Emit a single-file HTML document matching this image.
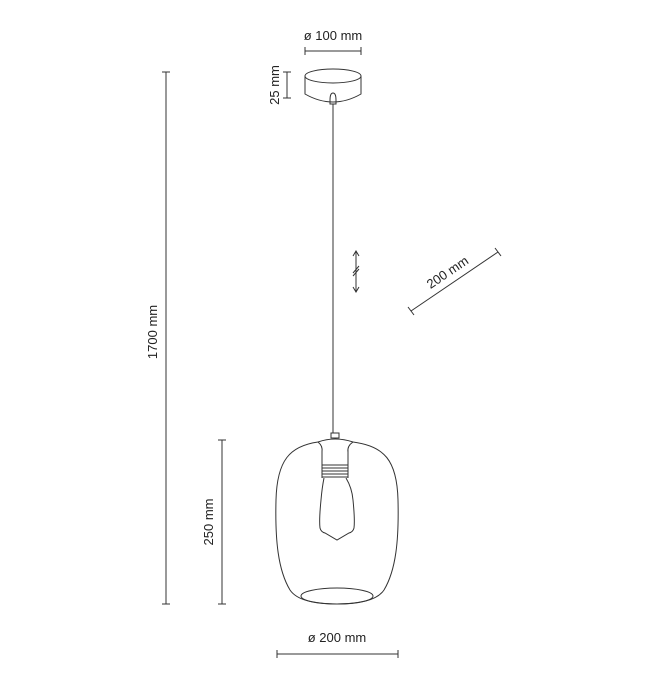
<!DOCTYPE html>
<html><head><style>
html,body{margin:0;padding:0;background:#fff;}
svg{display:block;}
text{font-family:"Liberation Sans",sans-serif;font-size:13px;fill:#222;}
</style></head><body>
<svg width="650" height="677" viewBox="0 0 650 677" xmlns="http://www.w3.org/2000/svg" fill="none" stroke="#333" stroke-width="1">
<!-- top dim -->
<text x="333" y="40" text-anchor="middle" stroke="none">ø 100 mm</text>
<line x1="305" y1="51" x2="361" y2="51"/><line x1="305" y1="47" x2="305" y2="55"/><line x1="361" y1="47" x2="361" y2="55"/>
<!-- 25 mm -->
<line x1="287" y1="72" x2="287" y2="98"/><line x1="283" y1="72" x2="291" y2="72"/><line x1="283" y1="98" x2="291" y2="98"/>
<text transform="translate(279,85) rotate(-90)" text-anchor="middle" stroke="none">25 mm</text>
<!-- canopy -->
<ellipse cx="333" cy="76" rx="28" ry="7"/>
<path d="M305 76 L305 94 Q333 110 361 94 L361 76"/>
<path d="M330 100 Q330 93 333 93 Q336 93 336 100 L336 104 L330 104 Z"/>
<line x1="333" y1="104" x2="333" y2="433"/>
<!-- 1700 -->
<line x1="166" y1="72" x2="166" y2="604"/><line x1="162" y1="72" x2="170" y2="72"/><line x1="162" y1="604" x2="170" y2="604"/>
<text transform="translate(157,332) rotate(-90)" text-anchor="middle" stroke="none">1700 mm</text>
<!-- 250 -->
<line x1="222" y1="440" x2="222" y2="604"/><line x1="218" y1="440" x2="226" y2="440"/><line x1="218" y1="604" x2="226" y2="604"/>
<text transform="translate(213,522) rotate(-90)" text-anchor="middle" stroke="none">250 mm</text>
<!-- bottom dim -->
<text x="337" y="642" text-anchor="middle" stroke="none">ø 200 mm</text>
<line x1="277" y1="654" x2="398" y2="654"/><line x1="277" y1="650" x2="277" y2="658"/><line x1="398" y1="650" x2="398" y2="658"/>
<!-- arrow symbol -->
<line x1="356" y1="252" x2="356" y2="291"/>
<path d="M353 256 L356 251 L359 256 M353 287 L356 292 L359 287"/>
<path d="M353 273 L359 266 M353 276 L359 269"/>
<!-- diagonal 200 -->
<line x1="411" y1="311" x2="498" y2="252"/>
<line x1="408" y1="307" x2="414" y2="315"/><line x1="495" y1="248" x2="501" y2="256"/>
<text transform="translate(450,276) rotate(-34)" text-anchor="middle" stroke="none">200 mm</text>
<!-- globe -->
<path d="M318 442 C290 446 277 460 276 500 C275 540 278 570 290 590 C298 602 320 604 337 604 C354 604 376 602 384 590 C396 570 399 540 398 500 C397 460 384 446 353 442"/>
<ellipse cx="337" cy="596" rx="36" ry="8"/>
<!-- socket -->
<rect x="331" y="433" width="8" height="5"/>
<path d="M318 442 Q335 436 353 442"/>
<path d="M318 442 Q323 446 322 452 L322 465 L348 465 L348 452 Q347 446 353 442"/>
<path d="M322 468 L348 468 M322 471 L348 471 M322 474 L348 474 M322 477 L348 477"/>
<path d="M322 465 L322 478 M348 465 L348 478"/>
<!-- bulb -->
<path d="M324 478 Q322 488 321 500 Q319 520 320 528 Q321 532 325 533 L337 540 L349 533 Q353 532 354 528 Q355 520 353 500 Q352 488 346 478"/>
</svg>
</body></html>
